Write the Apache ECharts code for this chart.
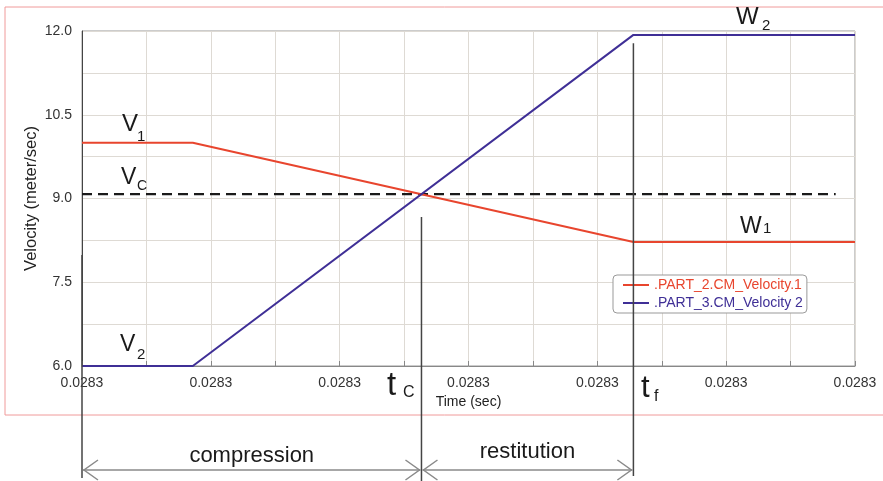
<!DOCTYPE html>
<html>
<head>
<meta charset="utf-8">
<script src="https://cdn.jsdelivr.net/npm/echarts@6/dist/echarts.min.js"></script>
<style>
  html, body { margin: 0; padding: 0; background: #fff; }
  #main { width: 883px; height: 481px; }
</style>
</head>
<body>
<div id="main"></div>
<script>
// time axis is in grid steps, every step reads 0.0283 s on the original plot
var timeSteps = [0, 1.72, 8.56, 12];
var velocity1 = [10.0, 10.0, 8.22, 8.22];
var velocity2 = [6.0, 6.0, 11.93, 11.93];
var commonTime = [0, 11.7];
var commonVel = [9.08, 9.08];
var xTickLabels = ['0.0283', '0.0283', '0.0283', '0.0283', '0.0283', '0.0283', '0.0283'];
var tC = 5.27;
var tF = 8.56;

var FONT = 'Liberation Sans, Arial, sans-serif';
var RED = '#e8452e';
var BLUE = '#3f2f96';

function pairs(xs, ys) {
  return xs.map(function (x, i) { return [x, ys[i]]; });
}

var myChart = echarts.init(document.getElementById('main'));

var option = {
  animation: false,
  textStyle: { fontFamily: FONT },
  grid: {
    left: 82, right: 28, top: 31, bottom: 115,
    show: true, borderColor: '#999', borderWidth: 1
  },
  legend: {
    orient: 'vertical',
    left: 613, top: 275,
    padding: [2, 4, 2, 10],
    itemWidth: 26, itemHeight: 2, itemGap: 2,
    icon: 'rect',
    backgroundColor: '#fff',
    borderColor: '#999', borderWidth: 1, borderRadius: 4,
    textStyle: { fontSize: 14, lineHeight: 16, fontFamily: FONT },
    data: [
      { name: '.PART_2.CM_Velocity.1', textStyle: { color: RED } },
      { name: '.PART_3.CM_Velocity 2', textStyle: { color: BLUE } }
    ]
  },
  xAxis: {
    type: 'value', min: 0, max: 12, interval: 1,
    name: 'Time (sec)', nameLocation: 'middle', nameGap: 26,
    nameTextStyle: { fontSize: 14, color: '#222' },
    axisLine: { lineStyle: { color: '#888' } },
    axisTick: { inside: true, length: 5, lineStyle: { color: '#888' } },
    axisLabel: {
      fontSize: 14, color: '#333', margin: 10, showMinLabel: true, showMaxLabel: true,
      formatter: function (v) { return v % 2 === 0 ? xTickLabels[v / 2] : ''; }
    },
    splitLine: { show: true, lineStyle: { color: '#dedad4' } }
  },
  yAxis: {
    type: 'value', min: 6, max: 12, interval: 0.75,
    name: 'Velocity (meter/sec)', nameLocation: 'middle', nameGap: 42,
    nameMoveOverlap: false,
    nameTextStyle: { fontSize: 16.5, color: '#222' },
    axisLine: { show: true, lineStyle: { color: '#444' } },
    axisTick: { show: false },
    axisLabel: {
      fontSize: 14, color: '#333', margin: 10,
      formatter: function (v) {
        var k = (v - 6) / 1.5;
        return Math.abs(k - Math.round(k)) < 1e-6 ? v.toFixed(1) : '';
      }
    },
    splitLine: { show: true, lineStyle: { color: '#dedad4' } }
  },
  series: [
    {
      name: '.PART_2.CM_Velocity.1', type: 'line', symbol: 'none',
      lineStyle: { color: RED, width: 2 }, itemStyle: { color: RED },
      data: pairs(timeSteps, velocity1)
    },
    {
      name: '.PART_3.CM_Velocity 2', type: 'line', symbol: 'none',
      lineStyle: { color: BLUE, width: 2 }, itemStyle: { color: BLUE },
      data: pairs(timeSteps, velocity2)
    },
    {
      name: 'vc', type: 'line', symbol: 'none', z: 1,
      lineStyle: { color: '#1a1a1a', width: 2.2, type: [10, 6] },
      data: pairs(commonTime, commonVel)
    }
  ]
};
myChart.setOption(option);

// annotations: lines, arrows and symbols
function px(t, v) { return myChart.convertToPixel({ gridIndex: 0 }, [t, v]); }
var x0 = px(0, 6)[0], xc = px(tC, 6)[0], xf = px(tF, 6)[0];
var arrowY = 470;

function label(x, y, txt, size) {
  return {
    type: 'text', x: x, y: y, z: 100,
    style: { text: txt, fontSize: size, fontFamily: FONT, fill: '#1a1a1a', textAlign: 'left', textVerticalAlign: 'middle' }
  };
}
function vline(x, y1, y2) {
  return { type: 'line', z: 90, shape: { x1: x, y1: y1, x2: x, y2: y2 }, style: { stroke: '#444', lineWidth: 1.5 } };
}
function arrow(xa, xb, y) {
  var s = { stroke: '#8a8a8a', lineWidth: 1.5, fill: null };
  return [
    { type: 'line', z: 90, shape: { x1: xa + 1, y1: y, x2: xb - 1, y2: y }, style: s },
    { type: 'polyline', z: 90, shape: { points: [[xa + 16, y - 10], [xa + 2, y], [xa + 16, y + 10]] }, style: s },
    { type: 'polyline', z: 90, shape: { points: [[xb - 16, y - 10], [xb - 2, y], [xb - 16, y + 10]] }, style: s }
  ];
}

var graphics = [
  { type: 'rect', z: 0, shape: { x: 5, y: 7, width: 885, height: 408 }, style: { fill: null, stroke: '#f09a9a', lineWidth: 1 } },
  vline(x0, px(0, 7.99)[1], 478),
  vline(xc, px(tC, 8.67)[1], 481),
  vline(xf, px(tF, 11.78)[1], 476),
  label(122, 124, 'V', 24), label(137, 137, '1', 15),
  label(121, 178, 'V', 23), label(137, 186, 'C', 14),
  label(120, 345, 'V', 23), label(137, 355, '2', 15),
  label(736, 17, 'W', 24), label(762, 26, '2', 15),
  label(740, 227, 'W', 23), label(763, 229, '1', 15),
  label(387, 386, 't', 33), label(403, 393, 'C', 16),
  label(641, 388, 't', 31), label(654, 397, 'f', 16),
  {
    type: 'text', x: (x0 + xc) / 2, y: 456, z: 100,
    style: { text: 'compression', fontSize: 22, fontFamily: FONT, fill: '#1a1a1a', textAlign: 'center', textVerticalAlign: 'middle' }
  },
  {
    type: 'text', x: (xc + xf) / 2, y: 452, z: 100,
    style: { text: 'restitution', fontSize: 22, fontFamily: FONT, fill: '#1a1a1a', textAlign: 'center', textVerticalAlign: 'middle' }
  }
].concat(arrow(x0, xc, arrowY), arrow(xc, xf, arrowY));

myChart.setOption({ graphic: graphics });
</script>
</body>
</html>
